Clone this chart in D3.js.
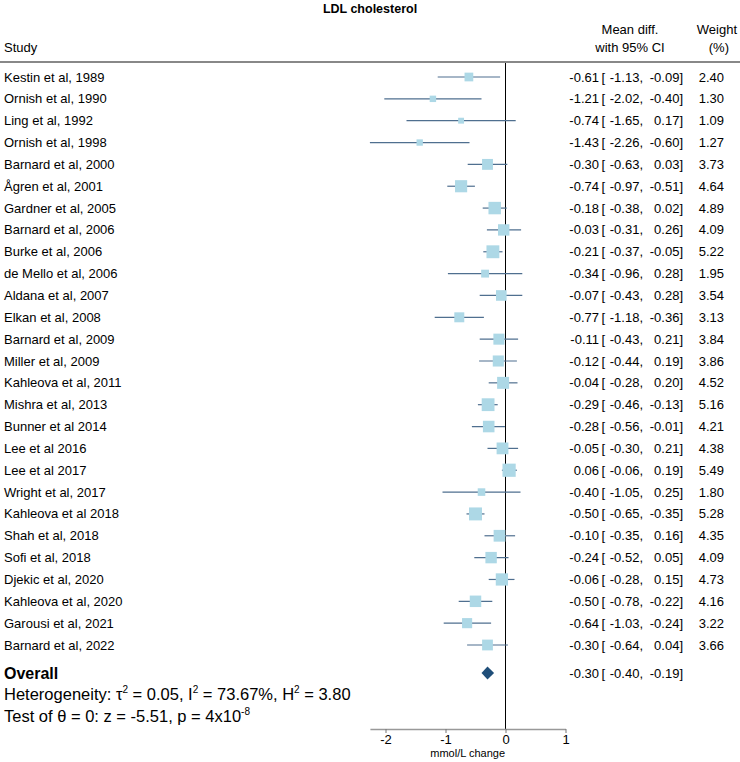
<!DOCTYPE html>
<html>
<head>
<meta charset="utf-8">
<script src="https://cdn.jsdelivr.net/npm/d3@7"></script>
<style>
  body { margin: 0; background: #fff; }
  svg { font-family: "Liberation Sans", Arial, sans-serif; }
</style>
</head>
<body>
<div id="chart"></div>
<script>
// study rows, top to bottom
const studies = ["Kestin et al, 1989", "Ornish et al, 1990", "Ling et al, 1992", "Ornish et al, 1998",
  "Barnard et al, 2000", "Ågren et al, 2001", "Gardner et al, 2005", "Barnard et al, 2006",
  "Burke et al, 2006", "de Mello et al, 2006", "Aldana et al, 2007", "Elkan et al, 2008",
  "Barnard et al, 2009", "Miller et al, 2009", "Kahleova et al, 2011", "Mishra et al, 2013",
  "Bunner et al 2014", "Lee et al 2016", "Lee et al 2017", "Wright et al, 2017",
  "Kahleova et al 2018", "Shah et al, 2018", "Sofi et al, 2018", "Djekic et al, 2020",
  "Kahleova et al, 2020", "Garousi et al, 2021", "Barnard et al, 2022"];
const estimates = [-0.61, -1.21, -0.74, -1.43, -0.30, -0.74, -0.18, -0.03, -0.21, -0.34, -0.07, -0.77,
  -0.11, -0.12, -0.04, -0.29, -0.28, -0.05, 0.06, -0.40, -0.50, -0.10, -0.24, -0.06, -0.50, -0.64, -0.30];
const lower = [-1.13, -2.02, -1.65, -2.26, -0.63, -0.97, -0.38, -0.31, -0.37, -0.96, -0.43, -1.18,
  -0.43, -0.44, -0.28, -0.46, -0.56, -0.30, -0.06, -1.05, -0.65, -0.35, -0.52, -0.28, -0.78, -1.03, -0.64];
const upper = [-0.09, -0.40, 0.17, -0.60, 0.03, -0.51, 0.02, 0.26, -0.05, 0.28, 0.28, -0.36,
  0.21, 0.19, 0.20, -0.13, -0.01, 0.21, 0.19, 0.25, -0.35, 0.16, 0.05, 0.15, -0.22, -0.24, 0.04];
const weights = [2.40, 1.30, 1.09, 1.27, 3.73, 4.64, 4.89, 4.09, 5.22, 1.95, 3.54, 3.13,
  3.84, 3.86, 4.52, 5.16, 4.21, 4.38, 5.49, 1.80, 5.28, 4.35, 4.09, 4.73, 4.16, 3.22, 3.66];
const overall = [-0.30, -0.40, -0.19];  // estimate, lower, upper
const xTicks = [-2, -1, 0, 1];

const rows = studies.map((s, i) => ({study: s, est: estimates[i], lo: lower[i], hi: upper[i], w: weights[i]}));

const W = 740, H = 762;
const svg = d3.select("#chart").append("svg")
    .attr("width", W)
    .attr("height", H);

const x = d3.scaleLinear().domain([-2.26, 1]).range([369.9, 565.5]);
const y = d3.scalePoint().domain(studies).range([77, 645]);
const side = d3.scaleSqrt().domain([0, d3.max(weights)]).range([0, 13.2]);
const f2 = d3.format(".2f");
const fmt = v => f2(v).replace("−", "-");

const yOverall = 673, axisY = 729;

// title and headers
svg.append("text").attr("x", 370).attr("y", 13).attr("text-anchor", "middle")
    .attr("font-size", "12.5px").attr("font-weight", "bold").text("LDL cholesterol");
svg.append("text").attr("x", 4).attr("y", 52).attr("font-size", "13px").text("Study");
svg.append("text").attr("x", 630).attr("y", 34).attr("text-anchor", "middle").attr("font-size", "13px").text("Mean diff.");
svg.append("text").attr("x", 630).attr("y", 52).attr("text-anchor", "middle").attr("font-size", "13px").text("with 95% CI");
svg.append("text").attr("x", 737).attr("y", 34).attr("text-anchor", "end").attr("font-size", "13px").text("Weight");
svg.append("text").attr("x", 729).attr("y", 52).attr("text-anchor", "end").attr("font-size", "13px").text("(%)");
svg.append("line").attr("x1", 0).attr("x2", W).attr("y1", 62).attr("y2", 62)
    .attr("stroke", "#888").attr("stroke-width", 2);

// zero reference line
svg.append("line").attr("x1", x(0)).attr("x2", x(0)).attr("y1", 63).attr("y2", axisY)
    .attr("stroke", "#000").attr("stroke-width", 1);

// study rows
const row = svg.selectAll(".row").data(rows).enter().append("g").attr("class", "row");

row.append("text").attr("x", 4).attr("y", d => y(d.study)).attr("dy", "0.35em")
    .attr("font-size", "13px").text(d => d.study);

row.append("line")
    .attr("x1", d => x(d.lo)).attr("x2", d => x(d.hi))
    .attr("y1", d => y(d.study)).attr("y2", d => y(d.study))
    .attr("stroke", "#4f6f8f").attr("stroke-width", 1.2);

row.append("rect")
    .attr("x", d => x(d.est) - side(d.w) / 2)
    .attr("y", d => y(d.study) - side(d.w) / 2)
    .attr("width", d => side(d.w)).attr("height", d => side(d.w))
    .attr("fill", "#add8e6");

// text columns: estimate [ lower, upper]  weight
function ciText(g, yy, est, lo, hi) {
    g.append("text").attr("x", 599).attr("y", yy).attr("dy", "0.35em")
        .attr("text-anchor", "end").attr("font-size", "13px").text(est);
    g.append("text").attr("x", 601.5).attr("y", yy).attr("dy", "0.35em")
        .attr("font-size", "13px").text("[");
    g.append("text").attr("x", 643).attr("y", yy).attr("dy", "0.35em")
        .attr("text-anchor", "end").attr("font-size", "13px").text(lo + ",");
    g.append("text").attr("x", 683).attr("y", yy).attr("dy", "0.35em")
        .attr("text-anchor", "end").attr("font-size", "13px").text(hi + "]");
}
row.each(function(d) {
    const g = d3.select(this);
    ciText(g, y(d.study), fmt(d.est), fmt(d.lo), fmt(d.hi));
    g.append("text").attr("x", 724).attr("y", y(d.study)).attr("dy", "0.35em")
        .attr("text-anchor", "end").attr("font-size", "13px").text(fmt(d.w));
});

// overall diamond
const dh = 6.5;
svg.append("path")
    .attr("d", `M${x(overall[1])},${yOverall} L${x(overall[0])},${yOverall - dh} L${x(overall[2])},${yOverall} L${x(overall[0])},${yOverall + dh} Z`)
    .attr("fill", "#1f4e79");
svg.append("text").attr("x", 4).attr("y", yOverall).attr("dy", "0.35em")
    .attr("font-size", "16px").attr("font-weight", "bold").text("Overall");
ciText(svg.append("g"), yOverall, fmt(overall[0]), fmt(overall[1]), fmt(overall[2]));

// heterogeneity text
const het = svg.append("text").attr("x", 4).attr("y", 700).attr("font-size", "16.5px");
het.append("tspan").text("Heterogeneity: τ");
het.append("tspan").attr("font-size", "10px").attr("dy", -7).text("2");
het.append("tspan").attr("dy", 7).text(" = 0.05, I");
het.append("tspan").attr("font-size", "10px").attr("dy", -7).text("2");
het.append("tspan").attr("dy", 7).text(" = 73.67%, H");
het.append("tspan").attr("font-size", "10px").attr("dy", -7).text("2");
het.append("tspan").attr("dy", 7).text(" = 3.80");

const test = svg.append("text").attr("x", 4).attr("y", 722).attr("font-size", "16.5px");
test.append("tspan").text("Test of θ = 0: z = -5.51, p = 4x10");
test.append("tspan").attr("font-size", "10px").attr("dy", -7).text("-8");

// x axis
const axis = svg.append("g").attr("transform", `translate(0, ${axisY})`)
    .call(d3.axisBottom(x).tickValues(xTicks).tickSize(4).tickSizeOuter(0).tickFormat(d3.format("d")));
axis.select(".domain").attr("stroke", "#999").attr("stroke-width", 1.5);
axis.selectAll(".tick line").attr("stroke", "#777");
axis.selectAll(".tick text").attr("font-size", "13px").attr("font-family", "Liberation Sans, Arial, sans-serif")
    .attr("fill", "#000").attr("y", 6).text(d => d3.format("d")(d).replace("−", "-"));

svg.append("text").attr("x", d3.mean(x.range())).attr("y", 757).attr("text-anchor", "middle")
    .attr("font-size", "11px").text("mmol/L change");
</script>
</body>
</html>
